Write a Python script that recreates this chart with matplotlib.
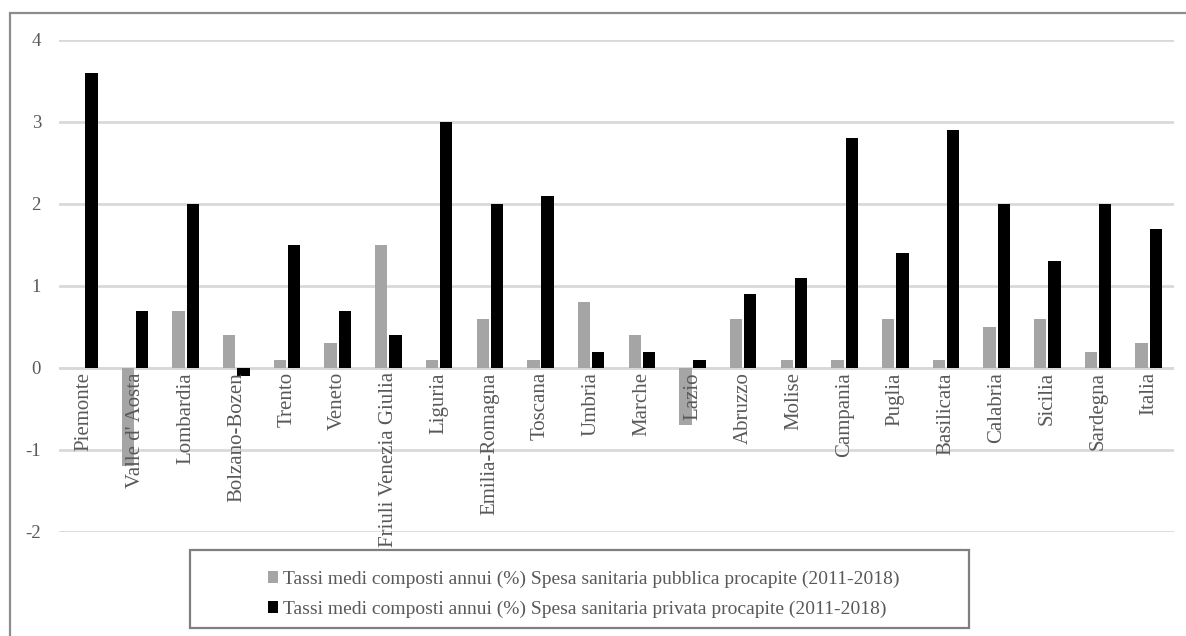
import matplotlib.pyplot as plt
import numpy as np
from matplotlib.patches import Rectangle

regions = ["Piemonte", "Valle d' Aosta", "Lombardia", "Bolzano-Bozen", "Trento", "Veneto",
           "Friuli Venezia Giulia", "Liguria", "Emilia-Romagna", "Toscana", "Umbria", "Marche",
           "Lazio", "Abruzzo", "Molise", "Campania", "Puglia", "Basilicata", "Calabria",
           "Sicilia", "Sardegna", "Italia"]
pubblica = [0.0, -1.2, 0.7, 0.4, 0.1, 0.3, 1.5, 0.1, 0.6, 0.1, 0.8, 0.4,
            -0.7, 0.6, 0.1, 0.1, 0.6, 0.1, 0.5, 0.6, 0.2, 0.3]
privata = [3.6, 0.7, 2.0, -0.1, 1.5, 0.7, 0.4, 3.0, 2.0, 2.1, 0.2, 0.2,
           0.1, 0.9, 1.1, 2.8, 1.4, 2.9, 2.0, 1.3, 2.0, 1.7]
series_labels = [
    "Tassi medi composti annui (%) Spesa sanitaria pubblica procapite (2011-2018)",
    "Tassi medi composti annui (%) Spesa sanitaria privata procapite (2011-2018)",
]
y_ticks = [-2, -1, 0, 1, 2, 3, 4]

plt.rcParams["font.family"] = ["Liberation Serif", "DejaVu Serif"]
text_color = "#595959"

fig = plt.figure(figsize=(11.86, 6.36), dpi=100)
ax = fig.add_axes([59 / 1186, 1 - 532 / 636, (1174 - 59) / 1186, (532 - 40) / 636])

x = np.arange(len(regions))
w = 0.243
b1 = ax.bar(x - 0.14, pubblica, w, color="#a5a5a5", label=series_labels[0])
b2 = ax.bar(x + 0.14, privata, w, color="#000000", label=series_labels[1])

ax.set_xlim(-0.5, len(regions) - 0.5)
ax.set_ylim(-2, 4)
ax.set_yticks(y_ticks)
ax.set_yticklabels([str(v) for v in y_ticks])
ax.yaxis.grid(True, color="#d9d9d9", linewidth=2.0)
ax.set_axisbelow(True)

ax.spines["bottom"].set_position(("data", 0))
for s in ["top", "right", "left", "bottom"]:
    ax.spines[s].set_visible(False)
ax.axhline(0, color="#d9d9d9", linewidth=2.0, zorder=0.6)

ax.set_xticks(x)
ax.set_xticklabels(regions, rotation=90, fontsize=15, color=text_color, va="top", ha="center")
ax.xaxis.set_zorder(3)
ax.tick_params(axis="x", length=0, pad=3)
ax.tick_params(axis="y", length=0, pad=13, labelsize=13.5, labelcolor=text_color)

# legend without frame, separate box like the original
leg = fig.legend(handles=[b1, b2], loc="center", bbox_to_anchor=(584 / 1186, 1 - 594 / 636),
                 frameon=False, fontsize=14, handlelength=0.5, handleheight=0.6,
                 handletextpad=0.25, labelspacing=0.65, labelcolor=text_color)
fig.patches.append(Rectangle((190 / 1186, 1 - 628 / 636), (969 - 190) / 1186, 78 / 636,
                             transform=fig.transFigure, fill=False, edgecolor="#7f7f7f",
                             linewidth=1.6))
# outer chart border
fig.patches.append(Rectangle((10 / 1186, -0.1), 1.2, 1.1 - 13 / 636,
                             transform=fig.transFigure, fill=False, edgecolor="#8c8c8c",
                             linewidth=1.6))

fig.savefig("out.png", dpi=100)
